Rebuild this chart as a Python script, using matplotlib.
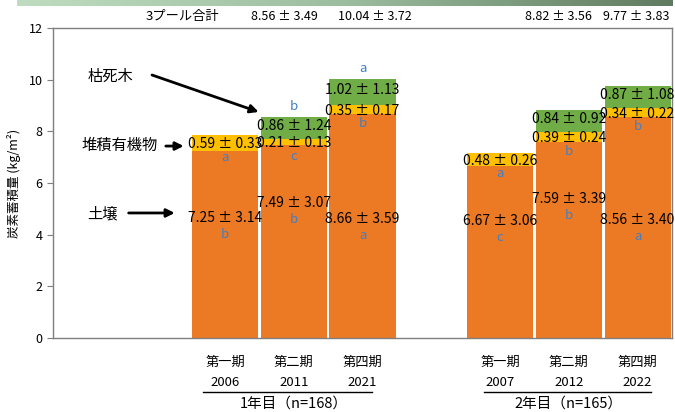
import numpy as np
import matplotlib
matplotlib.use("Agg")
import matplotlib.pyplot as plt
from matplotlib.colors import LinearSegmentedColormap

plt.rcParams['font.family'] = ['Noto Sans CJK JP', 'DejaVu Sans']

# 3 survey periods x 2 plot groups
periods = ['第一期', '第二期', '第四期', '第一期', '第二期', '第四期']
years = ['2006', '2011', '2021', '2007', '2012', '2022']
groups = ['1年目（n=168）', '2年目（n=165）']

soil = [7.25, 7.49, 8.66, 6.67, 7.59, 8.56]
soil_sd = [3.14, 3.07, 3.59, 3.06, 3.39, 3.40]
soil_sig = ['b', 'b', 'a', 'c', 'b', 'a']

litter = [0.59, 0.21, 0.35, 0.48, 0.39, 0.34]
litter_sd = [0.33, 0.13, 0.17, 0.26, 0.24, 0.22]
litter_sig = ['a', 'c', 'b', 'a', 'b', 'b']

# dead wood was not surveyed in the first period
deadwood = [0.0, 0.86, 1.02, 0.0, 0.84, 0.87]
deadwood_sd = [None, 1.24, 1.13, None, 0.92, 1.08]
deadwood_sig = ['', 'b', 'a', '', '', '']

total = [None, 8.56, 10.04, None, 8.82, 9.77]
total_sd = [None, 3.49, 3.72, None, 3.56, 3.83]

# bar positions (gap of one slot between the two groups)
x = np.array([0, 1, 2, 4, 5, 6])
soil_lab_y = [4.65, 5.23, 4.60, 4.53, 5.38, 4.57]
total_lab_x = [None, 0.87, 2.18, None, 4.85, 5.98]

c_soil = '#EC7A24'
c_litter = '#FFC000'
c_dead = '#70AD47'
c_sig = '#3F7FC6'
c_axis = '#7F7F7F'

fig = plt.figure(figsize=(6.75, 4.12), dpi=100)
ax = fig.add_axes([53/675, 74/412, 619/675, 310/412])

soil = np.array(soil)
litter = np.array(litter)
deadwood = np.array(deadwood)
w = 0.96
ax.bar(x, soil, w, color=c_soil, linewidth=0)
ax.bar(x, litter, w, bottom=soil, color=c_litter, linewidth=0)
ax.bar(x, deadwood, w, bottom=soil + litter, color=c_dead, linewidth=0)

fs_val = 10
fs_sig = 9.5


def value(xi, y, m, sd, fs=fs_val):
    ax.text(xi, y, f'{m:.2f} ± {sd:.2f}', ha='center', va='center',
            fontsize=fs, clip_on=False)


def sig(xi, y, s):
    ax.text(xi, y, s, ha='center', va='center', fontsize=fs_sig,
            color=c_sig)


for i, xi in enumerate(x):
    # soil
    value(xi, soil_lab_y[i], soil[i], soil_sd[i])
    sig(xi, soil_lab_y[i] - 0.65, soil_sig[i])
    # litter
    ly = soil[i] + litter[i] / 2 - 0.05
    value(xi, ly, litter[i], litter_sd[i])
    sig(xi, ly - 0.5, litter_sig[i])
    # dead wood
    if deadwood[i] > 0:
        top = soil[i] + litter[i] + deadwood[i]
        value(xi, soil[i] + litter[i] + deadwood[i] / 2 + 0.08,
              deadwood[i], deadwood_sd[i])
        if deadwood_sig[i]:
            sig(xi, top + 0.4, deadwood_sig[i])
    # total of the three pools above the plot area
    if total[i] is not None:
        value(total_lab_x[i], 12.43, total[i], total_sd[i], fs=9)

ax.text(-0.62, 12.43, '3プール合計', ha='center', va='center',
        fontsize=9.5, clip_on=False)

# pool names with arrows
arrow = dict(arrowstyle='-|>', color='black', lw=2, mutation_scale=12,
             shrinkA=0, shrinkB=0)
ax.text(-1.66, 10.14, '枯死木', ha='center', va='center', fontsize=11)
ax.annotate('', xy=(0.49, 8.75), xytext=(-1.06, 10.18), arrowprops=arrow)
ax.text(-1.53, 7.47, '堆積有機物', ha='center', va='center', fontsize=11)
ax.annotate('', xy=(-0.6, 7.43), xytext=(-0.86, 7.43), arrowprops=arrow)
ax.text(-1.78, 4.82, '土壌', ha='center', va='center', fontsize=11)
ax.annotate('', xy=(-0.73, 4.84), xytext=(-1.40, 4.84), arrowprops=arrow)

# category labels under the axis
for i, xi in enumerate(x):
    ax.text(xi, -0.93, periods[i], ha='center', va='center', fontsize=9.5,
            clip_on=False)
    ax.text(xi, -1.74, years[i], ha='center', va='center', fontsize=9.5,
            clip_on=False)
for g, (x0, x1) in enumerate([(-0.32, 2.14), (3.76, 6.19)]):
    ax.plot([x0, x1], [-2.09, -2.09], color='black', lw=1, clip_on=False)
    ax.text(1 + 4 * g, -2.55, groups[g], ha='center', va='center',
            fontsize=10.5, clip_on=False)

ax.set_xlim(-2.5, 6.5)
ax.set_ylim(0, 12)
ax.set_yticks(np.arange(0, 13, 2))
ax.set_xticks([])
ax.tick_params(axis='y', length=4, color=c_axis, labelsize=9)
for s in ax.spines.values():
    s.set_color(c_axis)
    s.set_linewidth(1)
ax.set_ylabel('炭素蓄積量 (kg/m²)', fontsize=9)
ax.yaxis.set_label_coords(-0.052, 0.5)

# green header strip
hdr = fig.add_axes([17/675, 406/412, 656/675, 6/412])
grad = np.linspace(0, 1, 256)[None, :]
cmap = LinearSegmentedColormap.from_list('hdr', ['#BFDCC0', '#9DBE9E', '#5F7A60'])
hdr.imshow(grad, aspect='auto', cmap=cmap)
hdr.axis('off')

fig.savefig('out.png', dpi=100)
